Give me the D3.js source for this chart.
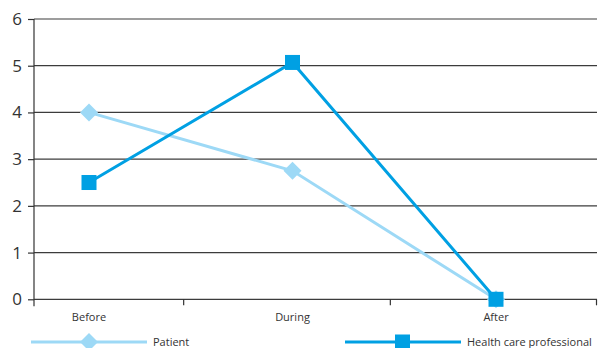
<!DOCTYPE html>
<html>
<head>
<meta charset="utf-8">
<script src="https://cdn.jsdelivr.net/npm/d3@7"></script>
<style>
  html, body { margin: 0; padding: 0; background: #fff; }
  svg { display: block; }
  text { font-family: "Open Sans", "Liberation Sans", sans-serif; fill: #333; }
</style>
</head>
<body>
<svg id="chart" width="598" height="348"></svg>
<script>
// Phases on the x axis
const phases = ["Before", "During", "After"];
// Scores per series
const patientValues = [4, 2.75, 0];
const professionalValues = [2.5, 5.07, 0];
// Y axis ticks
const yTicks = [0, 1, 2, 3, 4, 5, 6];
const seriesNames = ["Patient", "Health care professional"];

const colors = { patient: "#9dd9f6", professional: "#00a0e3" };

const svg = d3.select("#chart");

const y = d3.scaleLinear().domain([0, 6]).range([299.3, 19]);
const xPoint = d3.scalePoint().domain(phases).range([89, 496]);
const xBand = d3.scaleBand().domain(phases).range([-23, 597]);
const plotLeft = 34, plotRight = 597;

// Horizontal gridlines
svg.append("g")
  .selectAll("line")
  .data(yTicks)
  .join("line")
  .attr("x1", plotLeft).attr("x2", plotRight)
  .attr("y1", d => y(d)).attr("y2", d => y(d))
  .attr("stroke", "#3c3c3c").attr("stroke-width", 1.2);

// Y axis
const yAxis = d3.axisLeft(y).tickValues(yTicks).tickSize(6).tickPadding(6).tickFormat(d3.format("d"));
const yg = svg.append("g").attr("transform", `translate(${plotLeft},0)`).call(yAxis);
yg.select(".domain").remove();
yg.selectAll(".tick line").attr("stroke", "#333").attr("stroke-width", 1.2);
yg.selectAll(".tick text").attr("font-size", 17).style("fill", "#333");
svg.append("line")
  .attr("x1", plotLeft).attr("x2", plotLeft)
  .attr("y1", y(6)).attr("y2", y(0) + 7)
  .attr("stroke", "#333").attr("stroke-width", 1.2);

// X axis tick marks at category boundaries
const boundaries = phases.map(p => xBand(p) + xBand.bandwidth());
svg.append("g")
  .selectAll("line")
  .data(boundaries)
  .join("line")
  .attr("x1", d => Math.min(d, 596.5)).attr("x2", d => Math.min(d, 596.5))
  .attr("y1", y(0)).attr("y2", y(0) + 6)
  .attr("stroke", "#333").attr("stroke-width", 1.2);

// X labels
svg.append("g")
  .selectAll("text")
  .data(phases)
  .join("text")
  .attr("x", d => xPoint(d))
  .attr("y", 321)
  .attr("text-anchor", "middle")
  .attr("font-size", 11)
  .text(d => d);

const line = d3.line().x(d => xPoint(d.phase)).y(d => y(d.value));

const patient = phases.map((p, i) => ({ phase: p, value: patientValues[i] }));
const professional = phases.map((p, i) => ({ phase: p, value: professionalValues[i] }));

const diamond = s => `M0,${-s}L${s},0L0,${s}L${-s},0Z`;

// Patient series
svg.append("path").datum(patient)
  .attr("d", line).attr("fill", "none")
  .attr("stroke", colors.patient).attr("stroke-width", 3);
svg.append("g").selectAll("path")
  .data(patient)
  .join("path")
  .attr("transform", d => `translate(${xPoint(d.phase)},${y(d.value)})`)
  .attr("d", diamond(9))
  .attr("fill", colors.patient);

// Health care professional series
svg.append("path").datum(professional)
  .attr("d", line).attr("fill", "none")
  .attr("stroke", colors.professional).attr("stroke-width", 3);
svg.append("g").selectAll("rect")
  .data(professional)
  .join("rect")
  .attr("x", d => xPoint(d.phase) - 7.5)
  .attr("y", d => y(d.value) - 7.5)
  .attr("width", 15).attr("height", 15)
  .attr("fill", colors.professional);

// Legend
const legendY = 342;
const lg = svg.append("g");
lg.append("line").attr("x1", 31).attr("x2", 147).attr("y1", legendY).attr("y2", legendY)
  .attr("stroke", colors.patient).attr("stroke-width", 3);
lg.append("path").attr("transform", `translate(89,${legendY})`).attr("d", diamond(9)).attr("fill", colors.patient);
lg.append("text").attr("x", 153).attr("y", legendY + 4).attr("font-size", 11).text(seriesNames[0]);

lg.append("line").attr("x1", 345).attr("x2", 461).attr("y1", legendY).attr("y2", legendY)
  .attr("stroke", colors.professional).attr("stroke-width", 3);
lg.append("rect").attr("x", 395).attr("y", legendY - 7.5).attr("width", 15).attr("height", 15).attr("fill", colors.professional);
lg.append("text").attr("x", 467).attr("y", legendY + 4).attr("font-size", 11).text(seriesNames[1]);
</script>
</body>
</html>
